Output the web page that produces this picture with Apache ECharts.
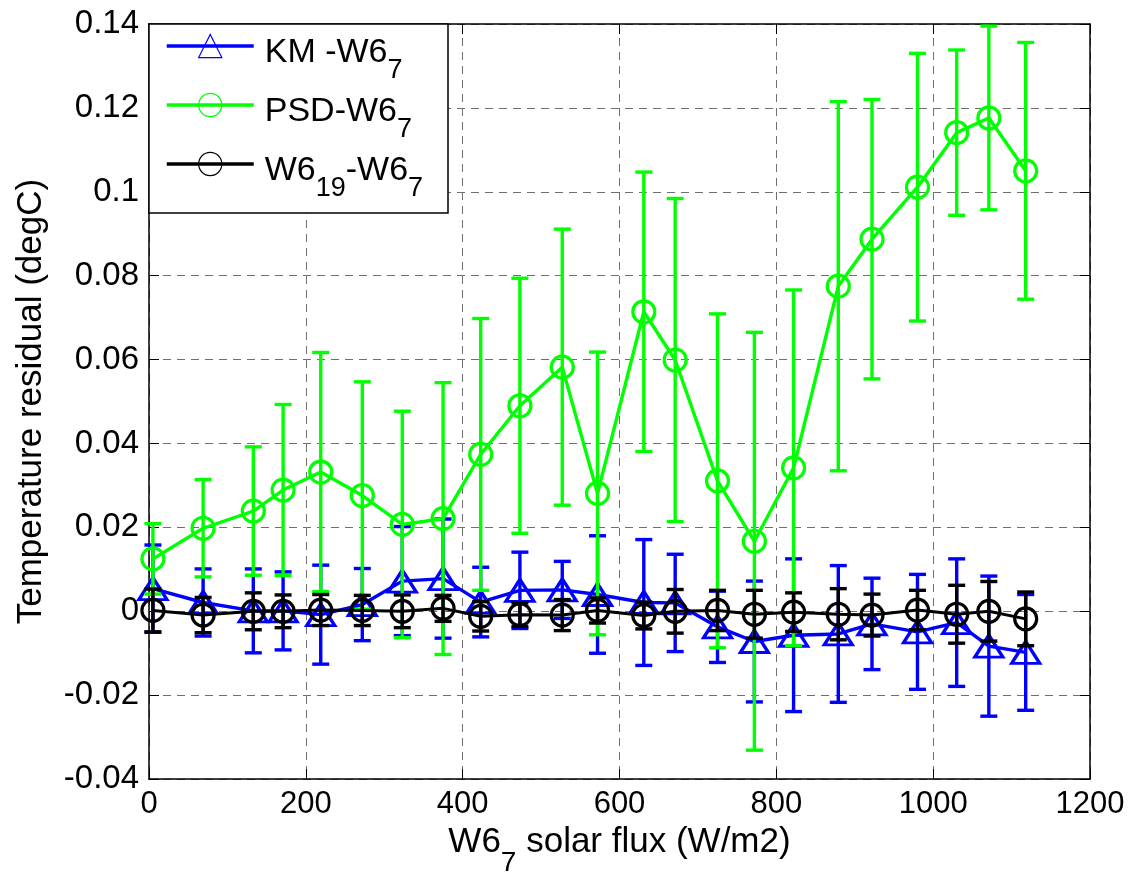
<!DOCTYPE html>
<html>
<head>
<meta charset="utf-8">
<script src="https://cdn.jsdelivr.net/npm/echarts@6/dist/echarts.min.js"></script>
<style>
html,body{margin:0;padding:0;background:#fff;}
#chart{width:1137px;height:882px;}
</style>
</head>
<body>
<div id="chart"></div>
<script>
// ---- data ----
const xValues = [5, 69, 133, 171, 219, 272, 323, 375, 423, 473, 527, 572, 631, 671, 725, 772, 822, 879, 922, 980, 1030, 1071, 1118];

const kmMean = [0.0054, 0.0021, 0.0001, 0.0001, -0.0008, 0.0016, 0.0072, 0.0078, 0.0022, 0.0050, 0.0051, 0.0040, 0.0021, 0.0020, -0.0037, -0.0072, -0.0057, -0.0054, -0.0030, -0.0049, -0.0027, -0.0083, -0.0098];
const kmErr  = [0.0104, 0.0080, 0.0100, 0.0093, 0.0118, 0.0086, 0.0130, 0.0142, 0.0083, 0.0091, 0.0068, 0.0140, 0.0150, 0.0116, 0.0085, 0.0144, 0.0182, 0.0163, 0.0109, 0.0137, 0.0152, 0.0167, 0.0138];

const psdMean = [0.0125, 0.0198, 0.0239, 0.0289, 0.0332, 0.0276, 0.0207, 0.0221, 0.0374, 0.0490, 0.0582, 0.0281, 0.0714, 0.0599, 0.0311, 0.0167, 0.0342, 0.0775, 0.0887, 0.1011, 0.1141, 0.1176, 0.1050];
const psdErr  = [0.0084, 0.0116, 0.0153, 0.0204, 0.0285, 0.0271, 0.0270, 0.0324, 0.0324, 0.0304, 0.0329, 0.0337, 0.0333, 0.0385, 0.0398, 0.0498, 0.0424, 0.0440, 0.0333, 0.0319, 0.0197, 0.0219, 0.0306];

const w6Mean = [0.0002, -0.0009, 0.0000, 0.0000, 0.0003, 0.0002, 0.0000, 0.0007, -0.0012, -0.0008, -0.0009, 0.0002, -0.0010, 0.0000, 0.0002, -0.0007, -0.0002, -0.0007, -0.0009, 0.0003, -0.0007, 0.0000, -0.0018];
const w6Err  = [0.0051, 0.0042, 0.0044, 0.0039, 0.0037, 0.0036, 0.0039, 0.0031, 0.0035, 0.0028, 0.0037, 0.0030, 0.0032, 0.0052, 0.0048, 0.0057, 0.0046, 0.0061, 0.0050, 0.0047, 0.0069, 0.0071, 0.0064];

const xTicks = [0, 200, 400, 600, 800, 1000, 1200];
const yTicks = [-0.04, -0.02, 0, 0.02, 0.04, 0.06, 0.08, 0.1, 0.12, 0.14];

const seriesNames = ['KM -W6_7', 'PSD-W6_7', 'W6_19-W6_7'];
const legendLabels = {
  'KM -W6_7': '{f|KM -W6}{s|7}',
  'PSD-W6_7': '{f|PSD-W6}{s|7}',
  'W6_19-W6_7': '{f|W6}{s|19}{m|-W6}{s|7}'
};
const colors = ['#0000ff', '#00ff00', '#000000'];
// --------------------------------------

function lineData(mean){ return xValues.map((x,i)=>[x, mean[i]]); }
function errData(mean, err){ return xValues.map((x,i)=>[x, mean[i]-err[i], mean[i]+err[i]]); }

function errRender(color){
  return function(params, api){
    const x = api.value(0), lo = api.value(1), hi = api.value(2);
    const t = api.coord([x, hi]), b = api.coord([x, lo]);
    const h = 8.5;
    const st = {stroke: color, lineWidth: 3.4, fill: null};
    return {type:'group', children:[
      {type:'line', shape:{x1:t[0], y1:t[1], x2:b[0], y2:b[1]}, style: st},
      {type:'line', shape:{x1:t[0]-h, y1:t[1], x2:t[0]+h, y2:t[1]}, style: st},
      {type:'line', shape:{x1:b[0]-h, y1:b[1], x2:b[0]+h, y2:b[1]}, style: st}
    ]};
  };
}

const FONT = '"Liberation Sans", Arial, sans-serif';
const gridLine = {show:true, lineStyle:{color:'#707070', width:1, type:[8,6]}};

const chart = echarts.init(document.getElementById('chart'), null, {renderer:'canvas'});

const option = {
  animation: false,
  backgroundColor: '#fff',
  grid: {left:149, right:47, top:24, bottom:96, containLabel:false},
  xAxis: [{
    type:'value', min:xTicks[0], max:xTicks[xTicks.length-1], interval:200,
    position:'bottom',
    axisLine:{show:true, onZero:false, lineStyle:{color:'#000', width:1.5}},
    axisTick:{show:true, inside:true, length:10, lineStyle:{color:'#000', width:1}},
    axisLabel:{color:'#000', fontSize:31, fontFamily:FONT, margin:10,
      formatter: v => String(v)},
    splitLine: gridLine,
    name:'{m|W6}{s|7}{m| solar flux (W/m2)}',
    nameLocation:'middle', nameGap:41,
    nameTextStyle:{color:'#000', fontFamily:FONT, rich:{
      m:{fontSize:35, lineHeight:35, verticalAlign:'top', fontFamily:FONT, color:'#000'},
      s:{fontSize:28, lineHeight:28, verticalAlign:'top', padding:[24,0,0,0], fontFamily:FONT, color:'#000'}
    }}
  },{
    type:'value', min:xTicks[0], max:xTicks[xTicks.length-1], interval:200,
    position:'top',
    axisLine:{show:true, onZero:false, lineStyle:{color:'#000', width:1.5}},
    axisTick:{show:true, inside:true, length:10, lineStyle:{color:'#000', width:1}},
    axisLabel:{show:false}, splitLine:{show:false}
  }],
  yAxis: [{
    type:'value', min:yTicks[0], max:yTicks[yTicks.length-1], interval:0.02,
    position:'left',
    axisLine:{show:true, onZero:false, lineStyle:{color:'#000', width:1.5}},
    axisTick:{show:true, inside:true, length:10, lineStyle:{color:'#000', width:1}},
    axisLabel:{color:'#000', fontSize:33, fontFamily:FONT, margin:10,
      formatter: v => String(+(+v).toFixed(2))},
    splitLine: gridLine,
    name:'Temperature residual (degC)',
    nameLocation:'middle', nameGap:100, nameRotate:90,
    nameTextStyle:{color:'#000', fontSize:35, fontFamily:FONT}
  },{
    type:'value', min:yTicks[0], max:yTicks[yTicks.length-1], interval:0.02,
    position:'right',
    axisLine:{show:true, onZero:false, lineStyle:{color:'#000', width:1.5}},
    axisTick:{show:true, inside:true, length:10, lineStyle:{color:'#000', width:1}},
    axisLabel:{show:false}, splitLine:{show:false}
  }],
  graphic: [{
    type:'rect', z:15, shape:{x:149, y:24, width:299, height:189},
    style:{fill:'#fff', stroke:'#000', lineWidth:1.5}
  }],
  legend: {
    z:20, show:true, orient:'vertical', left:149, top:24,
    padding:[5,0,0,16], itemGap:4, itemWidth:87, itemHeight:29,
    selectedMode:false,
    data: seriesNames,
    itemStyle:{borderWidth:1.2},
    lineStyle:{width:3.5},
    formatter: n => legendLabels[n],
    textStyle:{color:'#000', fontFamily:FONT, rich:{
      f:{fontSize:34, lineHeight:34, verticalAlign:'top', padding:[7,0,0,6], fontFamily:FONT, color:'#000'},
      m:{fontSize:34, lineHeight:34, verticalAlign:'top', padding:[7,0,0,0], fontFamily:FONT, color:'#000'},
      s:{fontSize:27, lineHeight:27, verticalAlign:'top', padding:[28,0,0,0], fontFamily:FONT, color:'#000'}
    }}
  },
  series: [
    {type:'custom', name:'km-err', z:2, renderItem: errRender(colors[0]), encode:{x:0, y:[1,2]}, data: errData(kmMean, kmErr), silent:true},
    {type:'line', name:seriesNames[0], z:3, data: lineData(kmMean),
      symbol:'triangle', symbolSize:[28,22], showSymbol:true,
      lineStyle:{color:colors[0], width:3.4},
      itemStyle:{color:'transparent', borderColor:colors[0], borderWidth:3.2}},
    {type:'custom', name:'psd-err', z:4, renderItem: errRender(colors[1]), encode:{x:0, y:[1,2]}, data: errData(psdMean, psdErr), silent:true},
    {type:'line', name:seriesNames[1], z:5, data: lineData(psdMean),
      symbol:'circle', symbolSize:22, showSymbol:true,
      lineStyle:{color:colors[1], width:3.4},
      itemStyle:{color:'transparent', borderColor:colors[1], borderWidth:3.2}},
    {type:'custom', name:'w6-err', z:6, renderItem: errRender(colors[2]), encode:{x:0, y:[1,2]}, data: errData(w6Mean, w6Err), silent:true},
    {type:'line', name:seriesNames[2], z:7, data: lineData(w6Mean),
      symbol:'circle', symbolSize:22, showSymbol:true,
      lineStyle:{color:colors[2], width:3},
      itemStyle:{color:'transparent', borderColor:colors[2], borderWidth:3.2}}
  ]
};
chart.setOption(option);
</script>
</body>
</html>
